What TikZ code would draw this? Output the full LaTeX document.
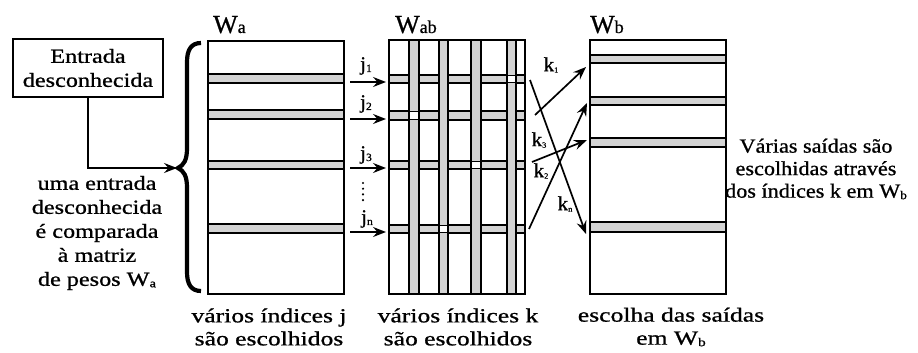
\documentclass[tikz,border=0pt]{standalone}
\usepackage{fontspec}
\setmainfont{Liberation Serif}[RawFeature={embolden=0.8}]
\usetikzlibrary{arrows.meta}
\definecolor{bandgray}{RGB}{211,211,211}
% small lowered index letter
\newcommand{\idxsub}[2][12]{\raisebox{-1.5pt}{\fontsize{#1}{#1}\selectfont #2}}
% horizontally widened text lines
\newcommand{\wideL}[1]{\scalebox{1.21}[1]{#1}}
\newcommand{\wideB}[1]{\scalebox{1.28}[1]{#1}}
\newcommand{\wideR}[1]{\scalebox{1.11}[1]{#1}}
\newcommand{\wideI}[1]{\scalebox{1.05}[1]{#1}}

\begin{document}
\begin{tikzpicture}[x=1pt,y=-1pt,
  matbox/.style={draw, line width=1.9pt},
  band/.style={draw, fill=bandgray, line width=1.4pt},
  hole/.style={draw, fill=white, line width=1.1pt},
  tip/.style={-{Stealth[length=13pt,width=10pt,inset=4.5pt]}},
  arr/.style={line width=1.7pt, tip},
  title/.style={anchor=base west, inner sep=0pt, font=\fontsize{26}{26}\selectfont},
  idx/.style={inner sep=0pt, font=\fontsize{20}{20}\selectfont},
  vdot/.style={circle, fill, inner sep=0pt, minimum size=2.4pt},
  lefttext/.style={align=center, inner sep=0pt, font=\fontsize{20}{24}\selectfont},
  bottext/.style={align=center, inner sep=0pt, font=\fontsize{20}{23}\selectfont},
  righttext/.style={align=center, inner sep=0pt, font=\fontsize{20}{22.5}\selectfont}]

\useasboundingbox (0,0) rectangle (918,353);

% ---- matrix W_a ----
\foreach \ya/\yb in {74/83, 110/119, 161/169, 224/233}
  \draw[band] (208,\ya) rectangle (344,\yb);
\draw[matbox] (208,41) rectangle (344,294);
\node[title] (ta) at (213,33) {W{\fontsize{18}{18}\selectfont a}};

% ---- matrix W_ab ----
\foreach \ya/\yb in {75/83, 111/120, 161/169, 225/233}
  \draw[band] (389,\ya) rectangle (525,\yb);
\foreach \xa/\xb in {409/419, 439/448, 471/481, 507/516}
  \draw[band] (\xa,40) rectangle (\xb,294);
\draw[hole] (507.5,75.5) rectangle (515.5,82.5);
\draw[hole] (409.5,111.5) rectangle (418.5,119.5);
\draw[hole] (471.5,161.5) rectangle (480.5,168.5);
\draw[hole] (439.5,225.5) rectangle (447.5,232.5);
\draw[matbox] (389,40) rectangle (525,294);
\node[title] (tab) at (395,33) {W{\fontsize{18}{18}\selectfont ab}};

% ---- matrix W_b ----
\foreach \ya/\yb in {55/63, 97/105, 138/147, 222/232}
  \draw[band] (590,\ya) rectangle (726,\yb);
\draw[matbox] (590,40) rectangle (726,294);
\node[title] (tb) at (590,33) {W{\fontsize{18}{18}\selectfont b}};

% ---- unknown input and brace ----
\node[draw, line width=1.5pt, minimum width=150pt, minimum height=58pt,
      lefttext] (input) at (88,68) {\wideL{Entrada}\\\wideL{desconhecida}};
\coordinate (cusp) at (177,168);
\draw[line width=1.5pt, tip] (input.south) |- (cusp);
\draw[line width=4.2pt]
  (201,43) .. controls (191,43) and (187,50) .. (187,62) -- (187,148)
  .. controls (187,160) and (184,165) .. (178,168)
  .. controls (184,171) and (187,176) .. (187,188) -- (187,272)
  .. controls (187,284) and (191,291) .. (201,291);

\node[lefttext] (cmp) at (97,233)
  {\wideL{uma entrada}\\\wideL{desconhecida}\\\wideL{é comparada}\\\wideL{à matriz}\\\wideL{de pesos W\idxsub{a}}};

% ---- selected indices j ----
\foreach \n/\yy in {1/82, 2/119, 3/168, 4/232}{
  \coordinate (js\n) at (350,\yy);
  \coordinate (je\n) at (386,\yy);
  \draw[arr] (js\n) -- (je\n);
}
\node[idx] (lj1) at (366,66) {\wideI{j\idxsub[11]{1}}};
\node[idx] (lj2) at (366,104) {\wideI{j\idxsub[11]{2}}};
\node[idx] (lj3) at (366,155) {\wideI{j\idxsub[11]{3}}};
\node[idx] (ljn) at (367,219) {\wideI{j\idxsub[11]{n}}};
\foreach \i/\yy in {1/183, 2/188.7, 3/194.4, 4/200.1}
  \node[vdot] (dot\i) at (363,\yy) {};

% ---- selected indices k ----
\coordinate (kns) at (530,80);  \coordinate (kne) at (586,234);
\coordinate (k1s) at (535,115); \coordinate (k1e) at (586,67);
\coordinate (k2s) at (529,229); \coordinate (k2e) at (587,103);
\coordinate (k3s) at (532,162); \coordinate (k3e) at (587,140);
\draw[arr] (kns) -- (kne);
\draw[arr] (k1s) -- (k1e);
\draw[arr] (k2s) -- (k2e);
\draw[arr] (k3s) -- (k3e);
\node[idx] (lk1) at (551,65) {\wideI{k\idxsub[8]{1}}};
\node[idx] (lk3) at (539,140) {\wideI{k\idxsub[8]{3}}};
\node[idx] (lk2) at (541,171) {\wideI{k\idxsub[8]{2}}};
\node[idx] (lkn) at (565,204) {\wideI{k\idxsub[8]{n}}};

% ---- captions ----
\node[righttext] (outs) at (816,169)
  {\wideR{Várias saídas são}\\\wideR{escolhidas através}\\\wideR{dos índices k em W\idxsub{b}}};
\node[bottext] (capa) at (269,327) {\wideB{vários índices j}\\\wideB{são escolhidos}};
\node[bottext] (capab) at (458,327) {\wideB{vários índices k}\\\wideB{são escolhidos}};
\node[bottext] (capb) at (671,327) {\wideB{escolha das saídas}\\\wideB{em W\idxsub{b}}};
\end{tikzpicture}
\end{document}
